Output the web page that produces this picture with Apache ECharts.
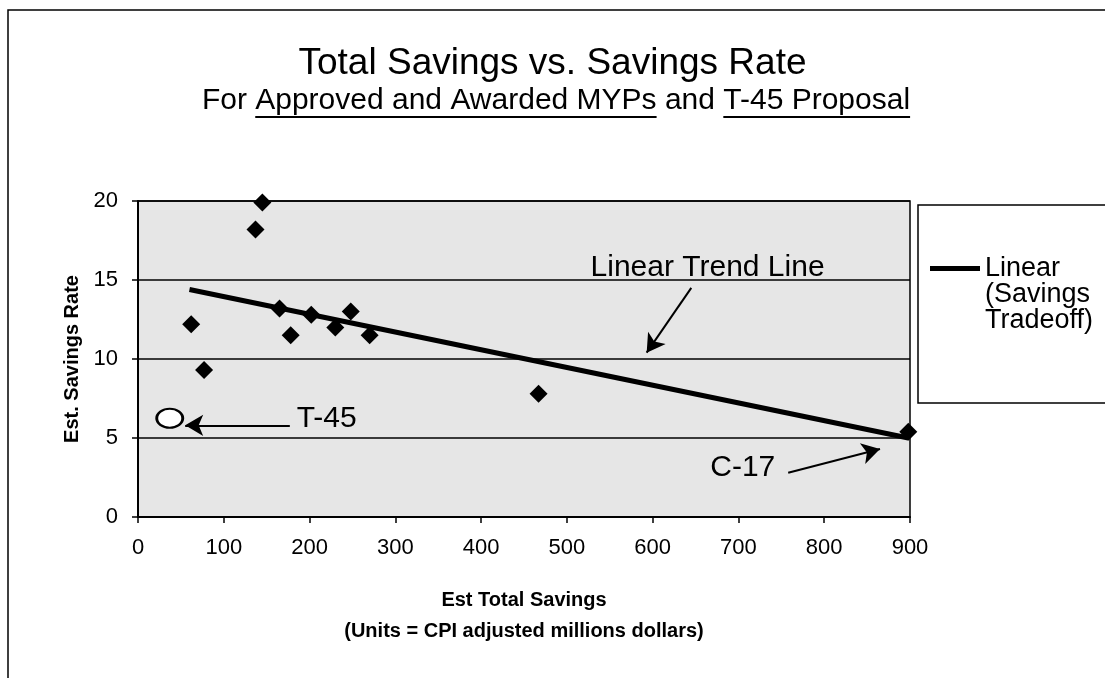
<!DOCTYPE html>
<html>
<head>
<meta charset="utf-8">
<script src="https://cdn.jsdelivr.net/npm/echarts@6/dist/echarts.min.js"></script>
<style>
  html, body { margin: 0; padding: 0; background: #fff; }
  #main { width: 1105px; height: 678px; }
</style>
</head>
<body>
<div id="main"></div>
<script>
// 数据
var savings = [62, 77, 137, 145, 165, 178, 202, 230, 248, 270, 467, 898];
var rates = [12.2, 9.3, 18.2, 19.9, 13.2, 11.5, 12.8, 12.0, 13.0, 11.5, 7.8, 5.4];
var t45 = [37, 6.25];
var trendX = [60, 898];
var trendY = [14.4, 5.0];
var xTicks = [0, 900, 100];
var yTicks = [0, 20, 5];
// 注释文字和箭头 (数据坐标)
var notes = [['Linear Trend Line', 664, 15.8], ['T-45', 220, 6.25], ['C-17', 705, 3.1]];
var arrows = [[[645, 14.5], [593, 10.4]], [[177, 5.8], [55, 5.8]], [[758, 2.8], [865, 4.3]]];

var FONT = "'Liberation Sans', Arial, sans-serif";

(function () {
  var myChart = echarts.init(document.getElementById('main'));

  // 副标题: 部分带下划线
  var ctx = document.createElement('canvas').getContext('2d');
  var subFont = '30px ' + FONT;
  ctx.font = subFont;
  var parts = [['For ', false], ['Approved and Awarded MYPs', true], [' and ', false], ['T-45 Proposal', true]];
  var total = 0;
  parts.forEach(function (p) { total += ctx.measureText(p[0]).width; });
  var sx = 556 - total / 2;
  var subGraphics = [];
  parts.forEach(function (p) {
    var w = ctx.measureText(p[0]).width;
    subGraphics.push({
      type: 'text', x: sx, y: 101,
      style: { text: p[0], font: subFont, fill: '#000', verticalAlign: 'middle', align: 'left' }
    });
    if (p[1]) {
      subGraphics.push({
        type: 'line', shape: { x1: sx, y1: 117, x2: sx + w, y2: 117 },
        style: { stroke: '#000', lineWidth: 2 }
      });
    }
    sx += w;
  });

  var option = {
    animation: false,
    textStyle: { fontFamily: FONT, color: '#000' },
    title: {
      text: 'Total Savings vs. Savings Rate',
      left: 'center',
      top: 40,
      textStyle: { fontSize: 37, fontWeight: 'normal', color: '#000', fontFamily: FONT }
    },
    graphic: [
      // 外框
      {
        type: 'rect', shape: { x: 8, y: 10, width: 1200, height: 800 },
        style: { fill: 'none', stroke: '#000', lineWidth: 1.5 }, z: -10
      },
      // 图例框
      {
        type: 'rect', shape: { x: 918, y: 205, width: 250, height: 198 },
        style: { fill: '#fff', stroke: '#000', lineWidth: 1.5 }, z: -5
      }
    ].concat(subGraphics),
    legend: {
      left: 925,
      top: 198,
      data: [{ name: 'Linear (Savings Tradeoff)', icon: 'rect' }],
      itemWidth: 50,
      itemHeight: 5,
      itemGap: 4,
      // 前面两个空行, 让第一行和图标对齐
      formatter: function () { return '\n\nLinear\n(Savings\nTradeoff)'; },
      textStyle: { fontSize: 27, lineHeight: 26, color: '#000', fontFamily: FONT },
      z: 10
    },
    grid: {
      left: 138,
      top: 201,
      width: 772,
      height: 316,
      show: true,
      backgroundColor: '#e6e6e6',
      borderColor: '#000',
      borderWidth: 1.5,
      outerBoundsMode: 'none'
    },
    xAxis: {
      type: 'value',
      min: xTicks[0],
      max: xTicks[1],
      interval: xTicks[2],
      name: 'Est Total Savings\n(Units = CPI adjusted millions dollars)',
      nameLocation: 'middle',
      nameGap: 68,
      nameTextStyle: { fontSize: 20, fontWeight: 'bold', lineHeight: 31, color: '#000' },
      axisLine: { lineStyle: { color: '#000', width: 2 } },
      axisTick: { length: 6, lineStyle: { color: '#000', width: 1.5 } },
      axisLabel: { fontSize: 22, color: '#000', margin: 20 },
      splitLine: { show: false }
    },
    yAxis: {
      type: 'value',
      min: yTicks[0],
      max: yTicks[1],
      interval: yTicks[2],
      name: 'Est. Savings Rate',
      nameLocation: 'middle',
      nameGap: 22,
      nameTextStyle: { fontSize: 20, fontWeight: 'bold', color: '#000' },
      axisLine: { lineStyle: { color: '#000', width: 2 } },
      axisTick: { length: 6, lineStyle: { color: '#000', width: 1.5 } },
      axisLabel: { fontSize: 22, color: '#000', margin: 20 },
      splitLine: { lineStyle: { color: '#000', width: 1.5 } }
    },
    series: [
      {
        name: 'Linear (Savings Tradeoff)',
        type: 'line',
        data: trendX.map(function (x, i) { return [x, trendY[i]]; }),
        showSymbol: false,
        symbol: 'none',
        lineStyle: { color: '#000', width: 5 },
        itemStyle: { color: '#000' },
        z: 3,
        markLine: {
          silent: true,
          symbol: ['none', 'arrow'],
          symbolSize: [16, 18],
          label: { show: false },
          lineStyle: { color: '#000', width: 2, type: 'solid' },
          data: arrows.map(function (a) {
            return [{ coord: a[0] }, { coord: a[1] }];
          })
        },
        markPoint: {
          silent: true,
          symbol: 'circle',
          symbolSize: 0,
          label: {
            show: true,
            position: 'inside',
            fontSize: 30,
            color: '#000',
            fontFamily: FONT,
            formatter: function (p) { return p.name; }
          },
          data: notes.map(function (n) { return { name: n[0], coord: [n[1], n[2]] }; })
        }
      },
      {
        name: 'Savings',
        type: 'scatter',
        data: savings.map(function (x, i) { return [x, rates[i]]; }),
        symbol: 'diamond',
        symbolSize: [18, 18],
        itemStyle: { color: '#000', opacity: 1 },
        clip: false,
        z: 4
      },
      {
        name: 'T-45',
        type: 'scatter',
        data: [t45],
        symbol: 'circle',
        symbolSize: [26, 19],
        itemStyle: { color: '#fff', borderColor: '#000', borderWidth: 2.5, opacity: 1 },
        clip: false,
        z: 4
      }
    ]
  };
  myChart.setOption(option);
})();
</script>
</body>
</html>
